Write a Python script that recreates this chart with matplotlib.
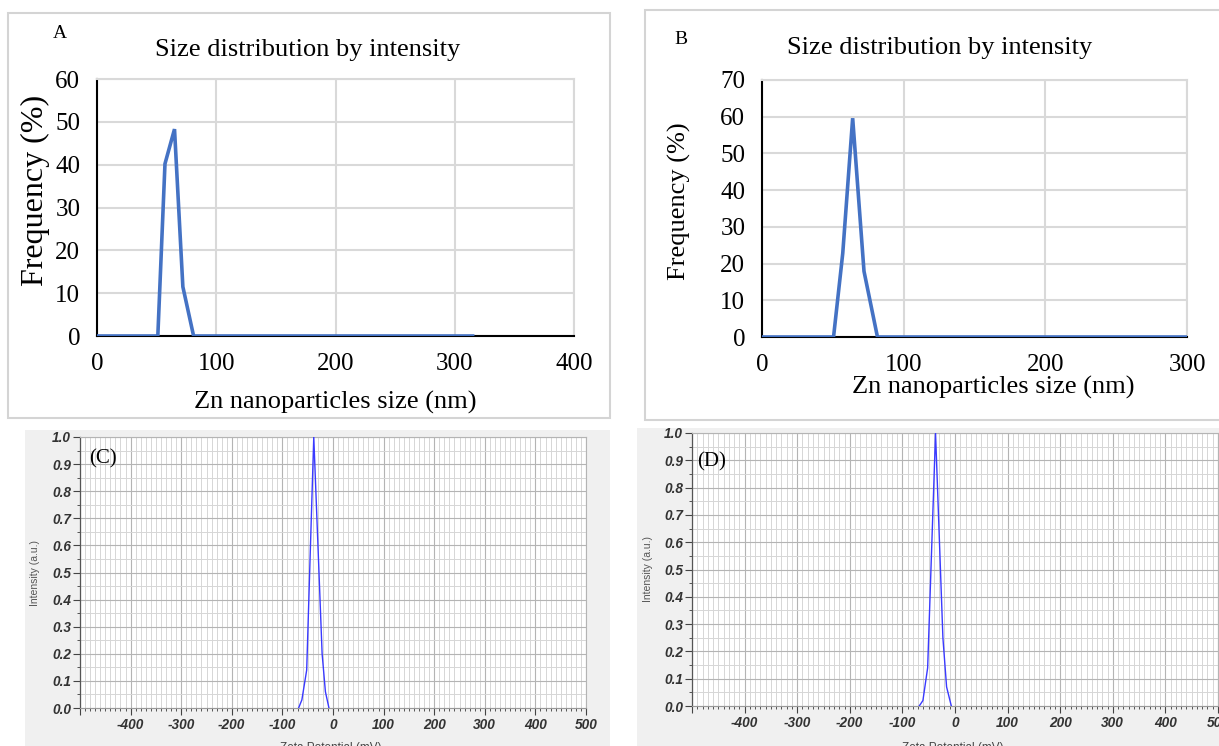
import matplotlib
matplotlib.use("Agg")
import matplotlib.pyplot as plt
from matplotlib.patches import Rectangle
import numpy as np

W, H = 1219, 746
DPI = 100

# ---------------- data ----------------
sizeA_nm = [0, 51, 57, 65, 72, 81, 315]
freqA_pct = [0, 0, 40.2, 48.3, 11.5, 0, 0]

sizeB_nm = [0, 50.5, 57, 64, 72, 81.5, 300]
freqB_pct = [0, 0, 22.8, 59.6, 17.9, 0, 0]

zetaC_mV = [-68, -61.5, -52, -38, -21.5, -15, -8]
intC = [0, 0.03, 0.14, 1.0, 0.2, 0.06, 0]

zetaD_mV = [-68, -61, -52, -37, -23, -16, -7]
intD = [0, 0.02, 0.14, 1.0, 0.25, 0.07, 0]

size_title = "Size distribution by intensity"
size_xlabel = "Zn nanoparticles size (nm)"
size_ylabel = "Frequency (%)"
zeta_xlabel = "Zeta Potential (mV)"
zeta_ylabel = "Intensity (a.u.)"

fig = plt.figure(figsize=(W / DPI, H / DPI), dpi=DPI)
fig.patch.set_facecolor("white")

SERIF = ["Liberation Serif", "DejaVu Serif"]
SANS = ["Liberation Sans", "DejaVu Sans"]


def ax_px(x0, y0, x1, y1):
    a = fig.add_axes([x0 / W, 1 - y1 / H, (x1 - x0) / W, (y1 - y0) / H])
    a.set_zorder(5)
    return a


def rect_px(x0, y0, x1, y1, **kw):
    r = Rectangle((x0 / W, 1 - y1 / H), (x1 - x0) / W, (y1 - y0) / H,
                  transform=fig.transFigure, zorder=-10, **kw)
    fig.patches.append(r)


def text_px(x, y, s, **kw):
    fig.text(x / W, 1 - y / H, s, zorder=10, **kw)


# frames / backgrounds
rect_px(8, 13, 610, 418, facecolor="white", edgecolor="#d4d4d4", lw=1.5)
rect_px(645, 10, 1230, 420, facecolor="white", edgecolor="#d4d4d4", lw=1.5)
rect_px(25, 430, 610, 750, facecolor="#f0f0f0", edgecolor="none")
rect_px(637, 428, 1225, 750, facecolor="#f0f0f0", edgecolor="none")


def size_panel(box, x, y, xmax, xstep, ymax):
    ax = ax_px(*box)
    ax.patch.set_alpha(0)
    ax.plot(x, y, color="#4472C4", lw=2.6, solid_joinstyle="miter", clip_on=True, zorder=3)
    ax.set_xlim(0, xmax)
    ax.set_ylim(0, ymax)
    ax.set_xticks(np.arange(0, xmax + 1, xstep))
    ax.set_yticks(np.arange(0, ymax + 1, 10))
    ax.grid(True, color="#d9d9d9", lw=1.5)
    ax.set_axisbelow(True)
    for s in ["top", "right"]:
        ax.spines[s].set_color("#d9d9d9")
        ax.spines[s].set_linewidth(1.5)
    ax.spines["left"].set_color("black")
    ax.spines["left"].set_linewidth(1.5)
    ax.spines["bottom"].set_color("black")
    ax.spines["bottom"].set_linewidth(1.5)
    ax.tick_params(length=0, labelsize=18)
    ax.tick_params(axis="x", pad=12)
    ax.tick_params(axis="y", pad=12)
    for lab in ax.get_xticklabels() + ax.get_yticklabels():
        lab.set_family(SERIF)
    return ax


axA = size_panel((97, 79, 574, 336), sizeA_nm, freqA_pct, 400, 100, 60)
axB = size_panel((762, 80, 1187, 337), sizeB_nm, freqB_pct, 300, 100, 70)

text_px(308, 50, size_title, family=SERIF, fontsize=19, ha="center", va="center")
text_px(940, 48, size_title, family=SERIF, fontsize=19, ha="center", va="center")
text_px(60, 33, "A", family=SERIF, fontsize=14, ha="center", va="center")
text_px(681, 40, "B", family=SERIF, fontsize=14, ha="center", va="center")
text_px(335, 402, size_xlabel, family=SERIF, fontsize=19, ha="center", va="center")
text_px(993, 387, size_xlabel, family=SERIF, fontsize=19, ha="center", va="center")
text_px(35, 190, size_ylabel, family=SERIF, fontsize=23, ha="center", va="center", rotation=90)
text_px(679, 201, size_ylabel, family=SERIF, fontsize=19, ha="center", va="center", rotation=90)


def zeta_panel(box, x, y, tag, tagpos, ylabx, xlabx):
    ax = ax_px(*box)
    ax.set_facecolor("white")
    ax.set_xlim(-500, 500)
    ax.set_ylim(0, 1.0)
    ax.set_xticks(np.arange(-500, 501, 100))
    ax.set_xticks(np.arange(-500, 501, 10), minor=True)
    ax.set_yticks(np.round(np.arange(0, 1.01, 0.1), 1))
    ax.set_yticks(np.arange(0, 1.01, 0.05), minor=True)
    ax.grid(True, which="minor", color="#d6d6d6", lw=0.7)
    ax.grid(True, which="major", color="#b4b4b4", lw=0.8)
    ax.set_axisbelow(True)
    ax.plot(x, y, color="#3a3aff", lw=1.0, zorder=3)
    xt = [""] + [str(v) for v in range(-400, 501, 100)]
    ax.set_xticklabels(xt)
    ax.set_yticklabels([f"{v:.1f}" for v in np.arange(0, 1.01, 0.1)])
    for s in ["top", "right"]:
        ax.spines[s].set_color("#b4b4b4")
        ax.spines[s].set_linewidth(0.8)
    ax.spines["left"].set_color("#555555")
    ax.spines["bottom"].set_color("#999999")
    ax.spines["left"].set_linewidth(0.9)
    ax.spines["bottom"].set_linewidth(0.8)
    ax.tick_params(which="major", length=5, color="#444444", width=0.8)
    ax.tick_params(which="minor", length=2.5, color="#555555", width=0.7)
    ax.tick_params(labelsize=9.8, pad=1.5, labelcolor="#333333")
    ax.tick_params(axis="x", pad=2.5)
    for lab in ax.get_xticklabels() + ax.get_yticklabels():
        lab.set_family(SANS)
        lab.set_fontweight("bold")
        lab.set_fontstyle("italic")
    text_px(tagpos[0], tagpos[1], tag, family=SERIF, fontsize=15, ha="center", va="center")
    yc = (box[1] + box[3]) / 2
    text_px(ylabx, yc, zeta_ylabel, family=SANS, fontsize=7.5, color="#555555",
            ha="center", va="center", rotation=90)
    text_px(xlabx, 748, zeta_xlabel, family=SANS, fontsize=8.5, color="#444444",
            ha="center", va="center")
    return ax


axC = zeta_panel((80, 437, 586, 708), zetaC_mV, intC, "(C)", (103, 459), 35, 331)
axD = zeta_panel((692, 433, 1218, 706), zetaD_mV, intD, "(D)", (712, 462), 648, 953)

fig.savefig("out.png", dpi=DPI)
